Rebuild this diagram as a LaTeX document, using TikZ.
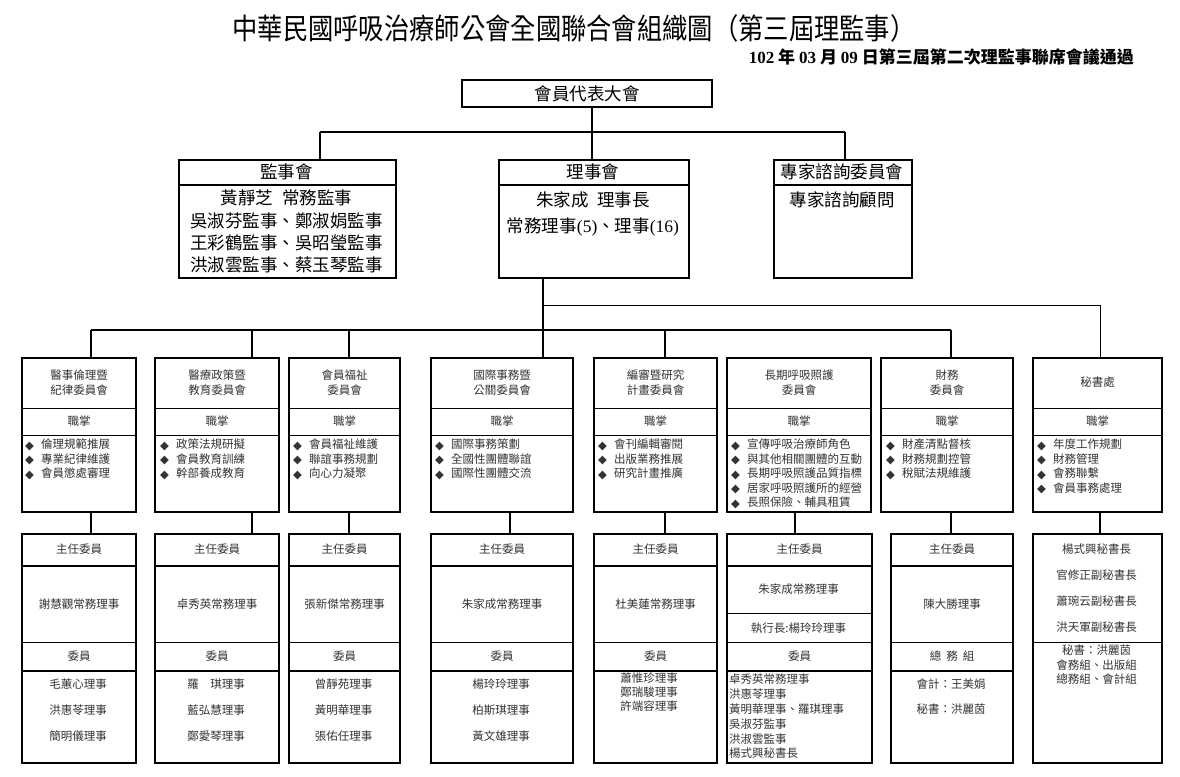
\documentclass[tikz,border=0pt]{standalone}
\usepackage{fontspec}
\usepackage{graphicx}
\setmainfont{Noto Sans CJK TC}
\newfontfamily\lat{Liberation Serif}
\newfontfamily\symf{DejaVu Sans}
\newcommand\mybul{\makebox[16pt][l]{\raisebox{-0.3pt}{\symf\fontsize{11.5}{11.5}\selectfont ◆}}}
\tikzset{
  outer/.style={draw,line width=2.4pt,inner sep=0pt,anchor=north west},
  thinln/.style={line width=1pt},
  midln/.style={line width=1.8pt},
  conn/.style={line width=1.6pt},
  connthick/.style={line width=2.4pt},
  big/.style={font=\fontsize{17.5}{22.3}\selectfont,inner sep=0pt,align=center},
  sm/.style={font=\fontsize{11.5}{14.5}\selectfont,inner sep=0pt,text=black!80},
  lst/.style={sm,align=left,anchor=north west},
}
\newcommand\rowone[6]{%
  \node[outer,minimum width=#3pt,minimum height=154pt] (#1) at (#2,357) {};
  \draw[thinln] (#1.west |- yA) -- (#1.east |- yA);
  \draw[thinln] (#1.west |- yB) -- (#1.east |- yB);
  \node[sm,align=center,font=\fontsize{11.5}{15}\selectfont] (#1h) at (#1.north |- tA) {#4};
  \node[sm] (#1z) at (#1.north |- tB) {職掌};
  \node[lst] (#1l) at (#2+#5,439) {#6};
}
\newcommand\rowtwo[4]{%
  \node[outer,minimum width=#3pt,minimum height=229pt] (#1) at (#2,533) {};
  \draw[midln] (#1.west |- yC) -- (#1.east |- yC);
  \draw[thinln] (#1.west |- yD) -- (#1.east |- yD);
  \draw[midln] (#1.west |- yE) -- (#1.east |- yE);
  \node[sm] (#1t) at (#1.north |- tC) {主任委員};
  \node[sm] (#1n) at (#1.north |- tD) {#4};
}
\begin{document}
\begin{tikzpicture}[x=1pt,y=-1pt]
\fill[white] (0,0) rectangle (1180,776);
\useasboundingbox (0,0) rectangle (1180,776);
% helper coordinates
\coordinate (yA) at (0,408);
\coordinate (yB) at (0,435);
\coordinate (tA) at (0,382.5);
\coordinate (tB) at (0,421.5);
\coordinate (yC) at (0,566);
\coordinate (yD) at (0,642);
\coordinate (yE) at (0,671);
\coordinate (tC) at (0,549.5);
\coordinate (tD) at (0,604);
\coordinate (tE) at (0,656);
\coordinate (tF) at (0,679);

% title
\node[inner sep=0pt] (title) at (574,28) {\scalebox{1}[1.15]{\fontsize{25.3}{30}\selectfont 中華民國呼吸治療師公會全國聯合會組織圖（第三屆理監事）}};
\node[inner sep=0pt,anchor=east] (sub) at (1134,57) {\bfseries\fontsize{17}{20}\selectfont{\lat 102} 年 {\lat 03} 月 {\lat 09} 日第三屆第二次理監事聯席會議通過};

% top level
\node[outer,minimum width=250pt,minimum height=27pt] (dele) at (461,79) {};
\node[big] (delet) at (dele.center) {會員代表大會};

\node[outer,minimum width=217pt,minimum height=118pt] (jsh) at (178,159) {};
\draw[connthick] (jsh.west |- 0,185) -- (jsh.east |- 0,185);
\node[big] (jshh) at (286.5,172) {監事會};
\node[big] (jshc) at (286.5,231.6) {黃靜芝\hspace{0.5em}常務監事\\吳淑芬監事、鄭淑娟監事\\王彩鶴監事、吳昭瑩監事\\洪淑雲監事、蔡玉琴監事};

\node[outer,minimum width=190pt,minimum height=118pt] (lsh) at (498,159) {};
\draw[connthick] (lsh.west |- 0,185) -- (lsh.east |- 0,185);
\node[big] (lshh) at (593,172) {理事會};
\node[big] (lsha) at (593,200) {朱家成\hspace{0.5em}理事長};
\node[big] (lshb) at (593,227) {常務理事{\lat (5)}、理事{\lat (16)}};

\node[outer,minimum width=138pt,minimum height=118pt] (zj) at (773,159) {};
\draw[connthick] (zj.west |- 0,185) -- (zj.east |- 0,185);
\node[big] (zjh) at (842,172) {專家諮詢委員會};
\node[big] (zja) at (842,200) {專家諮詢顧問};

% top connectors
\coordinate (d0) at (592,132);
\coordinate (d1) at (320,132);
\coordinate (d2) at (845,132);
\draw[conn] (dele.south -| d0) -- (d0);
\draw[midln] (d1) -- (d2);
\draw[conn] (d1) -- (jsh.north -| d1);
\draw[conn] (d0) -- (lsh.north -| d0);
\draw[conn] (d2) -- (zj.north -| d2);

% row one
\rowone{a1}{21}{114}{醫事倫理暨\\紀律委員會}{4}{\mybul 倫理規範推展\\\mybul 專業紀律維護\\\mybul 會員懲處審理}
\rowone{a2}{154}{124}{醫療政策暨\\教育委員會}{6}{\mybul 政策法規研擬\\\mybul 會員教育訓練\\\mybul 幹部養成教育}
\rowone{a3}{288}{111}{會員福祉\\委員會}{5}{\mybul 會員福祉維護\\\mybul 聯誼事務規劃\\\mybul 向心力凝聚}
\rowone{a4}{430}{142}{國際事務暨\\公關委員會}{5}{\mybul 國際事務策劃\\\mybul 全國性團體聯誼\\\mybul 國際性團體交流}
\rowone{a5}{593}{123}{編審暨研究\\計畫委員會}{5}{\mybul 會刊編輯審閱\\\mybul 出版業務推展\\\mybul 研究計畫推廣}
\rowone{a6}{726}{144}{長期呼吸照護\\委員會}{5}{\mybul 宣傳呼吸治療師角色\\\mybul 與其他相關團體的互動\\\mybul 長期呼吸照護品質指標\\\mybul 居家呼吸照護所的經營\\\mybul 長照保險、輔具租賃}
\rowone{a7}{880}{132}{財務\\委員會}{6}{\mybul 財產清點督核\\\mybul 財務規劃控管\\\mybul 稅賦法規維護}
\rowone{a8}{1032}{129}{秘書處}{5}{\mybul 年度工作規劃\\\mybul 財務管理\\\mybul 會務聯繫\\\mybul 會員事務處理}

% connectors to row one
\coordinate (c1) at (543,305);
\coordinate (k1) at (91,330);
\coordinate (k2) at (252,330);
\coordinate (k3) at (349,330);
\coordinate (k5) at (665,330);
\coordinate (k7) at (951,330);
\coordinate (k8) at (1100,330);
\draw[conn] (lsh.south -| c1) -- (a4.north -| c1);
\draw[thinln] (c1) -- (c1 -| k8) -- (a8.north -| k8);
\draw[connthick] (k1) -- (k7);
\draw[conn] (k1) -- (a1.north -| k1);
\draw[conn] (k2) -- (a2.north -| k2);
\draw[conn] (k3) -- (a3.north -| k3);
\draw[conn] (k5) -- (a5.north -| k5);
\draw[conn] (k7) -- (a7.north -| k7);

% row two
\rowtwo{b1}{21}{114}{謝慧觀常務理事}
\node[sm] (b1w) at (b1.north |- tE) {委員};
\node[sm,align=center,anchor=north,font=\fontsize{11.5}{26}\selectfont] (b1m) at (78,679) {毛蕙心理事\\洪惠苓理事\\簡明儀理事};

\rowtwo{b2}{154}{124}{卓秀英常務理事}
\node[sm] (b2w) at (b2.north |- tE) {委員};
\node[sm,align=center,anchor=north,font=\fontsize{11.5}{26}\selectfont] (b2m) at (216,679) {羅　琪理事\\藍弘慧理事\\鄭愛琴理事};

\rowtwo{b3}{288}{111}{張新傑常務理事}
\node[sm] (b3w) at (b3.north |- tE) {委員};
\node[sm,align=center,anchor=north,font=\fontsize{11.5}{26}\selectfont] (b3m) at (343.5,679) {曾靜苑理事\\黃明華理事\\張佑任理事};

\rowtwo{b4}{430}{142}{朱家成常務理事}
\node[sm] (b4w) at (b4.north |- tE) {委員};
\node[sm,align=center,anchor=north,font=\fontsize{11.5}{26}\selectfont] (b4m) at (501,679) {楊玲玲理事\\柏斯琪理事\\黃文雄理事};

\rowtwo{b5}{593}{123}{杜美蓮常務理事}
\node[sm] (b5w) at (b5.north |- tE) {委員};
\node[sm,align=center,anchor=north,font=\fontsize{11.5}{14}\selectfont] (b5m) at (649,673) {蕭惟珍理事\\鄭瑞駿理事\\許端容理事};

% box six row two (custom)
\node[outer,minimum width=145pt,minimum height=229pt] (b6) at (726,533) {};
\draw[midln] (b6.west |- yC) -- (b6.east |- yC);
\draw[thinln] (b6.west |- 0,613) -- (b6.east |- 0,613);
\draw[thinln] (b6.west |- yD) -- (b6.east |- yD);
\draw[midln] (b6.west |- yE) -- (b6.east |- yE);
\node[sm] (b6t) at (b6.north |- tC) {主任委員};
\node[sm] (b6n) at (798.5,589) {朱家成常務理事};
\node[sm] (b6e) at (798.5,628) {執行長:楊玲玲理事};
\node[sm] (b6w) at (b6.north |- tE) {委員};
\node[lst,font=\fontsize{11.5}{14.8}\selectfont] (b6m) at (729,674) {卓秀英常務理事\\洪惠苓理事\\黃明華理事、羅琪理事\\吳淑芬監事\\洪淑雲監事\\楊式興秘書長};

\rowtwo{b7}{890}{122}{陳大勝理事}
\node[sm] (b7w) at (b7.north |- tE) {總\hspace{5pt}務\hspace{5pt}組};
\node[sm,align=center,anchor=north,font=\fontsize{11.5}{25}\selectfont] (b7m) at (951,679) {會計：王美娟\\秘書：洪麗茵};

% box eight row two
\node[outer,minimum width=129pt,minimum height=229pt] (b8) at (1032,533) {};
\draw[thinln] (b8.west |- yD) -- (b8.east |- yD);
\node[sm,align=center,anchor=north,font=\fontsize{11.5}{25.8}\selectfont] (b8a) at (1096.5,544) {楊式興秘書長\\官修正副秘書長\\蕭琬云副秘書長\\洪天軍副秘書長};
\node[sm,align=center,anchor=north,font=\fontsize{11.5}{14.5}\selectfont] (b8b) at (1096.5,645) {秘書：洪麗茵\\會務組、出版組\\總務組、會計組};

% connectors row one to row two
\foreach \nm/\xx in {1/91,2/252,3/349,4/510,5/665,6/795,7/951,8/1100}{
  \coordinate (v\nm) at (\xx,520);
  \draw[conn] (a\nm.south -| v\nm) -- (b\nm.north -| v\nm);
}
\end{tikzpicture}
\end{document}
